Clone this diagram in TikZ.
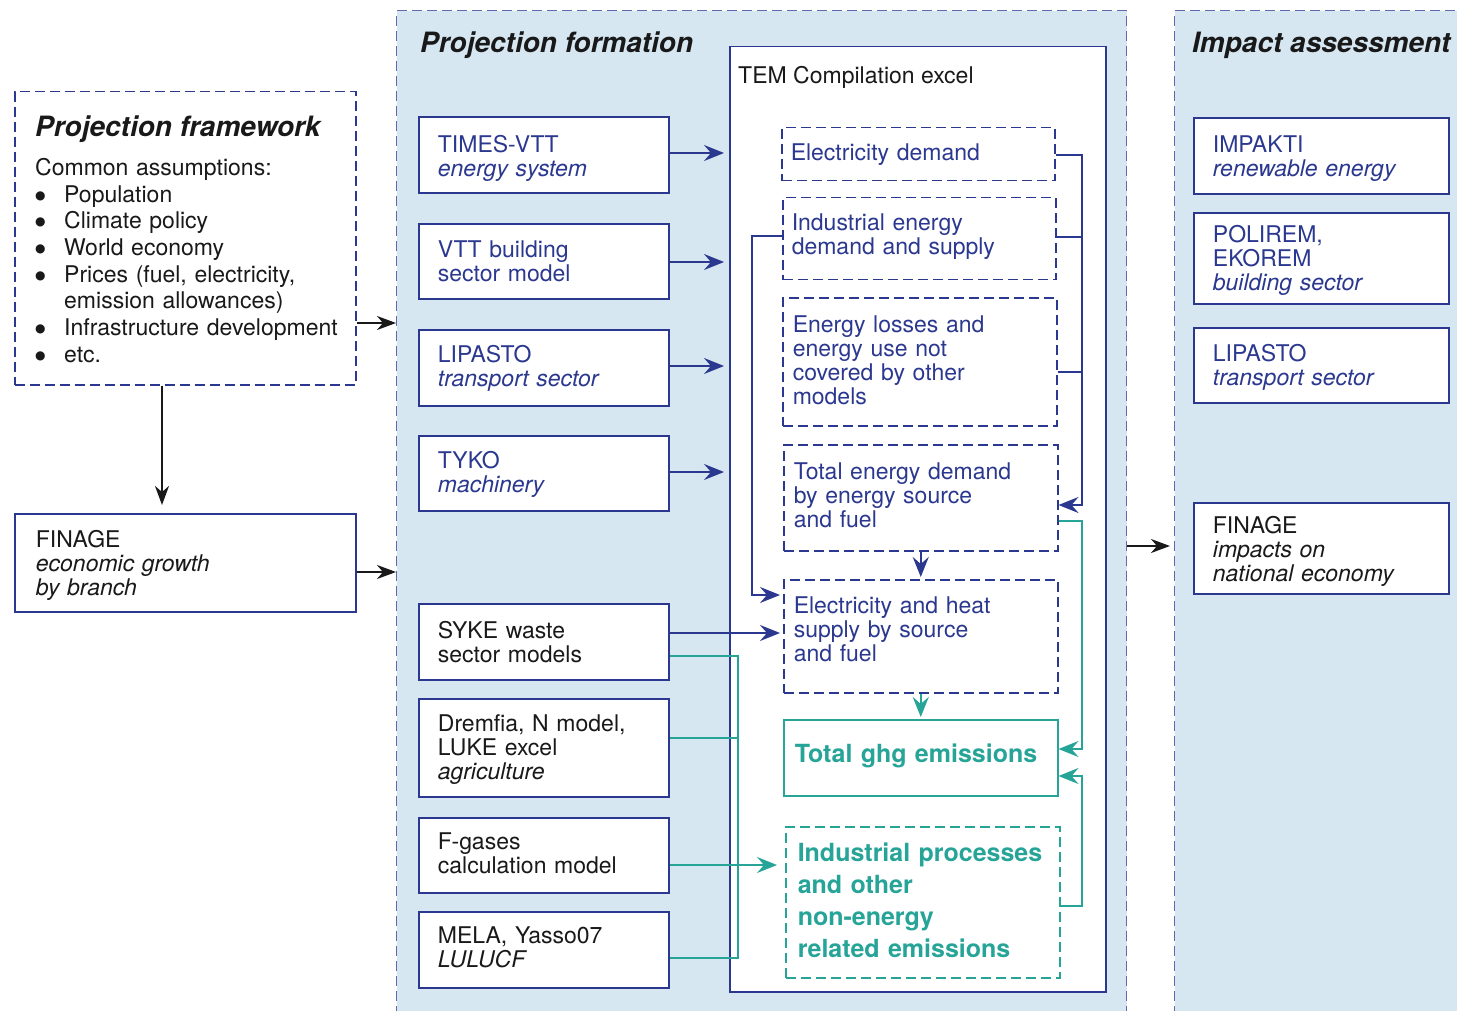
\documentclass[tikz,border=0pt]{standalone}
\usepackage{fontspec}
\setmainfont{TeX Gyre Heros}
\newfontfamily\symfont{DejaVu Sans}
\usetikzlibrary{arrows.meta,calc}
\definecolor{dblue}{RGB}{43,56,143}
\definecolor{pfill}{RGB}{214,231,242}
\definecolor{pdash}{RGB}{95,105,172}
\definecolor{tealc}{RGB}{38,164,152}
\definecolor{tblack}{RGB}{25,25,25}
\newcommand{\nf}{\fontsize{23}{24}\selectfont}
\newcommand{\tf}{\fontsize{28}{32}\selectfont\bfseries\itshape}
\newcommand{\gf}{\fontsize{25}{32}\selectfont\bfseries}
\newcommand{\bul}{\makebox[29pt][l]{\raisebox{3pt}{\symfont\fontsize{12}{12}\selectfont ●}}}
\newcommand{\up}[1]{\rule{0pt}{#1pt}}
\newcommand{\dn}[1]{\rule[-#1pt]{0pt}{#1pt}}
\begin{document}
\begin{tikzpicture}[x=1pt,y=-1pt,
  panel/.style={draw=pdash, fill=pfill, line width=1.4pt, dash pattern=on 10pt off 5pt, anchor=north west, inner sep=0pt},
  sbx/.style={draw=dblue, line width=1.8pt, fill=white, inner sep=0pt, align=left, font=\nf, anchor=north west},
  ibx/.style={draw=dblue, line width=1.5pt, dash pattern=on 10pt off 5pt, fill=white, inner sep=0pt, align=left, font=\nf, text=dblue, anchor=north west},
  gbx/.style={draw=tealc, line width=1.5pt, fill=white, inner sep=0pt, align=left, font=\gf, text=tealc, anchor=north west},
  bt/.style={text=dblue}, kt/.style={text=tblack},
  bline/.style={draw=dblue, line width=2pt},
  barr/.style={bline, -{Stealth[length=20pt,width=16pt,inset=7pt]}},
  tline/.style={draw=tealc, line width=2pt},
  tarr/.style={tline, -{Stealth[length=20pt,width=16pt,inset=7pt]}},
  karr/.style={draw=tblack, line width=2pt, -{Stealth[length=19pt,width=14pt,inset=6pt]}}]
\useasboundingbox (0,0) rectangle (1457,1011);
\clip (0,0) rectangle (1457,1011);
\fill[white] (0,0) rectangle (1457,1011);

% panels
\node[panel, minimum width=730pt, minimum height=1100pt] (pf) at (396,10) {};
\node[panel, minimum width=400pt, minimum height=1100pt] (ia) at (1174,10) {};
\node[anchor=base west, font=\tf, text=tblack, inner sep=0pt] (pft) at (420,53) {Projection formation};
\node[anchor=base west, font=\tf, text=tblack, inner sep=0pt] (iat) at (1192,53) {Impact assessment};

% projection framework
\node[draw=dblue, line width=1.5pt, dash pattern=on 10pt off 5pt, fill=white, anchor=north west, minimum width=341pt, minimum height=293pt, inner sep=0pt] (frame) at (14,91) {};
\node[anchor=base west, font=\tf, text=tblack, inner sep=0pt] (pfw) at (35,137) {Projection framework};
\node[anchor=north west, font={\fontsize{23}{26.7}\selectfont}, text=tblack, align=left, text width=320pt, inner sep=0pt] (list) at (35,158)
 {Common assumptions:\\
  \bul Population\\
  \bul Climate policy\\
  \bul World economy\\
  \bul Prices (fuel, electricity,\\
  \hspace*{29pt}emission allowances)\\
  \bul Infrastructure development\\
  \bul etc.};
\node[sbx, kt, minimum width=341pt, minimum height=98pt, text width=299pt] (finl) at (14,513) {\up{23}FINAGE\\\textit{economic growth}\\\textit{by branch}};

% TEM container
\node[draw=dblue, line width=1.5pt, fill=white, anchor=north west, minimum width=376pt, minimum height=945pt, inner sep=0pt] (tem) at (729,46) {};
\node[anchor=base west, font=\nf, text=tblack, inner sep=0pt] (temt) at (738,84) {TEM Compilation excel};

% left column models
\node[sbx, bt, minimum width=250pt, minimum height=76pt, text width=212pt] (times) at (418,116) {\up{25}TIMES-VTT\\\textit{energy system}};
\node[sbx, bt, minimum width=250pt, minimum height=75pt, text width=212pt] (vttb) at (418,223) {VTT building\\sector model};
\node[sbx, bt, minimum width=250pt, minimum height=76pt, text width=212pt] (lip) at (418,329) {LIPASTO\\\textit{transport sector}};
\node[sbx, bt, minimum width=250pt, minimum height=75pt, text width=212pt] (tyko) at (418,435) {\up{20}TYKO\\\textit{machinery}};
\node[sbx, kt, minimum width=250pt, minimum height=76pt, text width=212pt] (syke) at (418,603) {SYKE waste\\sector models};
\node[sbx, kt, minimum width=250pt, minimum height=98pt, text width=212pt] (drem) at (418,698) {\up{20}Dremfia, N model,\\LUKE excel\\\textit{agriculture}};
\node[sbx, kt, minimum width=250pt, minimum height=75pt, text width=212pt] (fgas) at (418,817) {F-gases\\calculation model\dn{4}};
\node[sbx, kt, minimum width=250pt, minimum height=76pt, text width=212pt] (mela) at (418,911) {MELA, Yasso07\\\textit{LULUCF}\dn{6}};

% impact assessment models
\node[sbx, bt, minimum width=255pt, minimum height=76pt, text width=217pt] (imp) at (1193,117) {\up{23}IMPAKTI\\\textit{renewable energy}};
\node[sbx, bt, minimum width=255pt, minimum height=91pt, text width=217pt] (pol) at (1193,212) {\up{21}POLIREM,\\EKOREM\\\textit{building sector}};
\node[sbx, bt, minimum width=255pt, minimum height=75pt, text width=217pt] (lipb) at (1193,327) {\up{21}LIPASTO\\\textit{transport sector}};
\node[sbx, kt, minimum width=255pt, minimum height=91pt, text width=217pt] (finr) at (1193,502) {\up{23}FINAGE\\\textit{impacts on}\\\textit{national economy}};

% TEM inner boxes
\node[ibx, minimum width=273pt, minimum height=53pt, text width=255pt] (eld) at (781,127) {Electricity demand};
\node[ibx, minimum width=273pt, minimum height=82pt, text width=255pt] (ind) at (782,197) {Industrial energy\\demand and supply\dn{9}};
\node[ibx, minimum width=274pt, minimum height=128pt, text width=254pt] (los) at (782,297) {Energy losses and\\energy use not\\covered by other\\models\dn{4}};
\node[ibx, minimum width=274pt, minimum height=106pt, text width=254pt] (tot) at (783,444) {Total energy demand\\by energy source\\and fuel\dn{6}};
\node[ibx, minimum width=274pt, minimum height=113pt, text width=254pt] (eh) at (783,579) {Electricity and heat\\supply by source\\and fuel\dn{14}};
\node[gbx, minimum width=274pt, minimum height=76pt, text width=252pt] (ghg) at (783,719) {Total ghg emissions\dn{9}};
\node[gbx, dash pattern=on 10pt off 5pt, minimum width=274pt, minimum height=151pt, text width=250pt] (ipr) at (785,826) {Industrial processes\\and other\\non-energy\\related emissions\dn{4}};

\coordinate (tj) at (738,0);
\coordinate (rb) at (1082,0);
\coordinate (lb) at (752,0);

% blue connectors
\draw[barr, shorten >=5pt] (times.east |- 0,153) -- (tem.west |- 0,153);
\draw[barr, shorten >=5pt] (vttb.east |- 0,262) -- (tem.west |- 0,262);
\draw[barr, shorten >=5pt] (lip.east |- 0,366) -- (tem.west |- 0,366);
\draw[barr, shorten >=5pt] (tyko.east |- 0,472) -- (tem.west |- 0,472);
\draw[barr, shorten >=3pt] (syke.east |- 0,633) -- (eh.west |- 0,633);
\draw[barr] (eld.east |- 0,155) -| (rb |- 0,505) -- (tot.east |- 0,505);
\draw[bline] (ind.east |- 0,237) -- (rb |- 0,237);
\draw[bline] (los.east |- 0,372) -- (rb |- 0,372);
\draw[barr, shorten >=3pt] (ind.west |- 0,236) -| (lb |- 0,595) -- (eh.west |- 0,595);
\draw[barr, shorten >=2pt] (tot.south) -- (eh.north);

% teal connectors
\draw[tarr, shorten >=2pt] (eh.south) -- (ghg.north);
\draw[tarr] (tot.east |- 0,521) -| (rb |- 0,749) -- (ghg.east |- 0,749);
\draw[tarr] (ipr.east |- 0,906) -| (rb |- 0,776) -- (ghg.east |- 0,776);
\draw[tline] (syke.east |- 0,656) -| (tj |- 0,958) -- (mela.east |- 0,958);
\draw[tline] (drem.east |- 0,738) -- (tj |- 0,738);
\draw[tarr, shorten >=8pt] (fgas.east |- 0,865) -- (ipr.west |- 0,865);

% black connectors
\draw[karr, shorten >=8pt] (frame.south -| 162,0) -- (finl.north -| 162,0);
\draw[karr] (frame.east |- 0,323) -- (pf.west |- 0,323);
\draw[karr] (finl.east |- 0,572) -- (pf.west |- 0,572);
\draw[karr, shorten >=4pt] (pf.east |- 0,546) -- (ia.west |- 0,546);
\end{tikzpicture}
\end{document}
